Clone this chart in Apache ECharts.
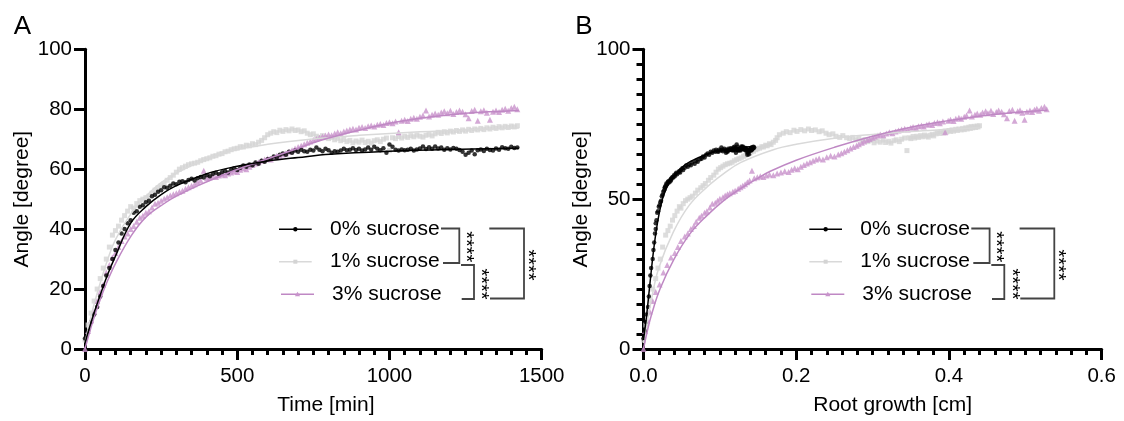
<!DOCTYPE html>
<html>
<head>
<meta charset="utf-8">
<script src="https://cdn.jsdelivr.net/npm/echarts@6/dist/echarts.min.js"></script>
<style>
html,body{margin:0;padding:0;background:#fff;}
#chart{width:1124px;height:421px;}
</style>
</head>
<body>
<div id="chart"></div>
<script>
// ---------------- DATA ----------------
const seriesNames = ['0% sucrose', '1% sucrose', '3% sucrose'];

// sampling times [min]
const times = [0,10,20,30,40,50,60,70,80,90,100,110,120,130,140,150,160,170,180,190,200,210,220,230,240,250,260,270,280,290,300,310,320,330,340,350,360,370,380,390,400,410,420,430,440,450,460,470,480,490,500,510,520,530,540,550,560,570,580,590,600,610,620,630,640,650,660,670,680,690,700,710,720,730,740,750,760,770,780,790,800,810,820,830,840,850,860,870,880,890,900,910,920,930,940,950,960,970,980,990,1000,1010,1020,1030,1040,1050,1060,1070,1080,1090,1100,1110,1120,1130,1140,1150,1160,1170,1180,1190,1200,1210,1220,1230,1240,1250,1260,1270,1280,1290,1300,1310,1320,1330,1340,1350,1360,1370,1380,1390,1400,1410,1420];

// angle [degree] per time point
const angle0 = [3.5,6,9,11.5,14,17.5,21,24.5,27,30,33,35.5,38.5,40,42,43,45.5,46,47.5,48,49,49.5,51,51.5,52.5,53,54,53.8,54.5,55.2,55,55.8,56,55.6,56.4,56.8,56.2,57,57.4,57.2,58,57.6,58.4,58.8,58.3,59,59.4,58.9,59.8,60.3,59.7,60.5,61.2,60.8,61.6,61.3,62.2,61.8,62.8,62.5,63.3,63.5,64.2,63.9,64.8,65.2,64.8,65.8,65.5,66.2,65.8,66.5,66,65.8,66.5,66.2,67.2,66.5,66,66.8,66.3,65.5,66,65.8,66.2,66.8,66.3,66.5,67,66.4,66.8,66.2,66.6,67.2,66.5,67.5,66.8,66.3,67,65.5,68.2,67.5,66.5,66.2,66.6,66.3,66.5,66.8,66.2,66.6,66.9,67.6,66.7,67.3,66.8,67.6,66.9,67.2,66.5,67,66.6,67.1,66.8,66.4,65.8,64.8,65.5,66.2,65,66.3,66.6,66.1,66.8,66.4,66.2,66.9,66.5,67.3,67,66.8,67.5,67.1,67.2];
const angle1 = [3,8,12,16,20,23.5,27,30,34,38,39.5,41,43,44.5,46,47.5,47,48.5,49.5,50,50.5,51,52,53,53.8,54.5,55.2,56.3,57.2,58,59,60,60.5,61,61.5,61.8,62,62.3,62.8,63.2,63.5,63.8,64.3,64.5,65,65.2,65.8,66,66.5,66.8,67,67.5,67.4,68,67.8,68.5,68.2,69,69.6,70.5,71.5,72,72.5,72.2,73,72.6,73.2,72.8,73.4,72.9,73.1,72.5,72.8,72,71.5,71.8,71,70.6,71.2,70.5,70.2,70.6,69.8,70.3,69.5,69.9,69.2,69.6,68.8,69.4,69,69.7,68.9,69.3,68.7,69.5,69.8,69.2,70,70.4,66.2,70.5,70.2,70.9,70.4,71,70.6,71.2,70.8,71.4,71,70.7,71.3,71.6,71.1,71.8,72.3,71.9,72.5,72.1,72.7,72.4,72.9,72.6,73.1,72.7,73.3,72.9,73.4,73.1,73.6,73.2,73.8,73.4,74,73.6,74.2,73.8,74.3,73.9,74.4,74.1,74.5];
const angle3 = [0,6,9.5,12.5,16,19,21.5,25.5,28,30.5,32,34,36,37.5,38.5,40,41,42.5,43.8,44.5,45.5,46,47.2,48.5,48.8,49.5,50.1,50.6,51.2,51.6,52,52.5,52.8,53.5,54,54.5,55,55.6,56.2,59.5,57,57.3,57.6,57.4,57.9,58.2,58,58.6,58.9,59.3,59.1,59.8,60.3,60,60.8,61.4,61.9,62.3,62.8,63.2,63.6,63.2,64,64.5,64.2,64.9,65.3,65.8,66.3,66.9,67.4,67.8,68.3,68.8,69.2,69.7,70.1,70.5,70.9,71.2,71.6,71.3,71.9,72.3,72,72.6,72.9,73.2,73.5,73.2,73.8,74.1,73.7,74.3,74.6,74.2,74.8,75.1,74.7,75.4,75.7,75.3,75.9,72.3,76.2,76.5,76.1,76.8,77.2,76.8,77.5,77.9,79.6,77.6,78.2,78.6,78.2,78.9,79.3,78.7,79.5,78.4,79.1,79.6,79.2,78.3,77,79.4,79.8,76.2,79.3,79.7,78.8,76.5,79.2,79.6,79.1,79.8,80.2,79.5,80.4,80.8,80];

// root growth [cm] per time point
const growth0 = [0,0.002,0.003,0.004,0.006,0.007,0.008,0.009,0.010,0.012,0.013,0.014,0.015,0.016,0.016,0.017,0.018,0.019,0.020,0.021,0.022,0.023,0.024,0.025,0.026,0.027,0.028,0.028,0.029,0.030,0.031,0.032,0.033,0.034,0.035,0.036,0.036,0.037,0.038,0.039,0.040,0.041,0.042,0.043,0.044,0.046,0.047,0.048,0.049,0.051,0.052,0.054,0.056,0.058,0.060,0.062,0.064,0.067,0.069,0.071,0.074,0.076,0.078,0.080,0.082,0.084,0.086,0.088,0.090,0.092,0.094,0.095,0.097,0.098,0.099,0.101,0.102,0.103,0.104,0.106,0.107,0.108,0.109,0.110,0.110,0.111,0.112,0.113,0.114,0.115,0.116,0.117,0.117,0.118,0.118,0.119,0.120,0.120,0.121,0.121,0.122,0.123,0.123,0.124,0.124,0.125,0.126,0.126,0.127,0.127,0.128,0.128,0.129,0.129,0.130,0.130,0.131,0.131,0.132,0.132,0.133,0.134,0.134,0.135,0.135,0.136,0.137,0.137,0.138,0.138,0.139,0.139,0.140,0.140,0.141,0.141,0.142,0.142,0.143,0.143,0.144,0.144,0.145];
const growth1 = [0,0.003,0.006,0.009,0.012,0.016,0.019,0.022,0.025,0.029,0.032,0.035,0.038,0.041,0.044,0.047,0.049,0.052,0.055,0.058,0.061,0.064,0.068,0.071,0.075,0.078,0.081,0.085,0.088,0.092,0.095,0.098,0.101,0.104,0.107,0.110,0.113,0.116,0.119,0.122,0.125,0.128,0.131,0.133,0.136,0.139,0.141,0.144,0.147,0.149,0.152,0.155,0.157,0.160,0.162,0.165,0.167,0.170,0.173,0.175,0.178,0.183,0.187,0.192,0.197,0.201,0.206,0.211,0.216,0.220,0.225,0.230,0.234,0.239,0.243,0.248,0.252,0.257,0.261,0.266,0.270,0.274,0.278,0.282,0.286,0.290,0.294,0.298,0.302,0.306,0.310,0.314,0.317,0.321,0.324,0.328,0.331,0.335,0.338,0.342,0.345,0.348,0.350,0.353,0.355,0.358,0.360,0.363,0.365,0.368,0.370,0.373,0.375,0.378,0.380,0.383,0.385,0.388,0.390,0.393,0.395,0.397,0.400,0.402,0.404,0.406,0.409,0.411,0.413,0.416,0.418,0.420,0.422,0.424,0.426,0.428,0.429,0.431,0.433,0.435,0.437,0.438,0.440];
const growth3 = [0,0.002,0.005,0.008,0.012,0.016,0.021,0.026,0.031,0.036,0.041,0.045,0.049,0.054,0.058,0.062,0.066,0.069,0.073,0.076,0.080,0.083,0.087,0.090,0.094,0.097,0.100,0.104,0.107,0.110,0.113,0.117,0.120,0.124,0.127,0.130,0.133,0.136,0.139,0.142,0.145,0.149,0.153,0.157,0.161,0.165,0.170,0.175,0.180,0.185,0.190,0.194,0.198,0.202,0.206,0.210,0.214,0.218,0.222,0.226,0.230,0.235,0.240,0.245,0.250,0.255,0.259,0.263,0.267,0.271,0.275,0.279,0.282,0.286,0.289,0.293,0.296,0.300,0.303,0.307,0.310,0.314,0.318,0.322,0.326,0.330,0.334,0.338,0.342,0.346,0.350,0.353,0.357,0.360,0.364,0.367,0.371,0.374,0.378,0.381,0.385,0.388,0.392,0.395,0.399,0.402,0.406,0.409,0.413,0.416,0.420,0.423,0.427,0.430,0.434,0.437,0.441,0.444,0.448,0.451,0.455,0.458,0.462,0.465,0.469,0.472,0.476,0.479,0.483,0.486,0.490,0.493,0.496,0.499,0.502,0.506,0.509,0.512,0.515,0.518,0.521,0.525,0.528];

// fitted curves: [x, angle]
const fitTime0 = [[0,2],[25,10.5],[50,18],[75,25],[100,31],[150,42],[200,47.5],[250,51.5],[300,54.5],[400,58.5],[500,61],[600,62.7],[700,63.9],[805,65],[1000,66],[1200,66.6],[1425,67]];
const fitTime1 = [[0,2],[25,13],[50,22],[75,30],[100,36.5],[150,45],[200,51],[250,55.5],[300,58.7],[400,63.5],[476,66],[600,68.3],[740,70],[900,71.3],[1100,72.5],[1300,73.3],[1425,73.7]];
const fitTime3 = [[0,0],[25,9],[50,16.5],[75,23],[100,28.5],[150,37.5],[200,44],[264,48.8],[300,51],[373,54.6],[476,59],[600,63.5],[700,67],[750,68.8],[800,70.4],[900,73],[1000,75.3],[1100,77],[1200,78.2],[1300,79],[1425,79.6]];
const fitGrowth0 = [[0,3],[0.004,11],[0.0085,22],[0.013,32.5],[0.017,40],[0.022,47],[0.028,52.5],[0.039,57.5],[0.05,60.5],[0.061,62.5],[0.083,65],[0.105,66.5],[0.125,67.2],[0.145,67.6]];
const fitGrowth1 = [[0,2],[0.01,16],[0.02,27],[0.039,39],[0.06,48],[0.083,54],[0.105,58.5],[0.127,62.2],[0.17,66.5],[0.2,68.3],[0.25,70.3],[0.3,71.6],[0.35,72.6],[0.4,73.3],[0.44,73.8]];
const fitGrowth3 = [[0,0],[0.005,6],[0.01,11],[0.0216,20],[0.04,30],[0.061,38.5],[0.083,44.5],[0.105,49.5],[0.127,53.5],[0.15,57],[0.166,59.3],[0.2,63],[0.25,67.3],[0.3,71],[0.35,74],[0.4,76.2],[0.45,78],[0.5,79.2],[0.529,79.7]];

// axis ticks
const timeTicks = {min: 0, max: 1500, interval: 500};
const growthTicks = {min: 0, max: 0.6, interval: 0.2};
const angleTicksA = {min: 0, max: 100, interval: 20};
const angleTicksB = {min: 0, max: 100, interval: 50};

// ---------------- STYLE ----------------
const FONT = "'Liberation Sans', Arial, sans-serif";
const TICKFS = 20.5;
const TXTFS = 21;
const COL = ['#000000', '#d4d4d4', '#c994cc'];
const LINECOL = ['#000000', '#d9d9d9', '#bf88c4'];
const SYM = ['circle', 'rect', 'triangle'];
const SYMSIZE = [4.5, 5, 6];

function axisStyle(extra) {
  return Object.assign({
    axisLine: {show: true, onZero: false, lineStyle: {color: '#000', width: 3}},
    axisTick: {show: true, length: 11, lineStyle: {color: '#000', width: 3}},
    splitLine: {show: false},
    nameTextStyle: {color: '#000', fontSize: TXTFS, fontFamily: FONT}
  }, extra);
}

const xAxes = [
  axisStyle({gridIndex: 0, type: 'value', min: timeTicks.min, max: timeTicks.max, interval: timeTicks.interval,
    minorTick: {show: true, splitNumber: 10, length: 6, lineStyle: {color: '#000', width: 3}},
    axisLabel: {color: '#000', fontSize: TICKFS, fontFamily: FONT, margin: 17, formatter: v => String(v)},
    name: 'Time [min]', nameLocation: 'middle', nameGap: 46,
    nameTextStyle: {color: '#000', fontSize: TXTFS, fontFamily: FONT, padding: [0, 0, 0, 25]}}),
  axisStyle({gridIndex: 1, type: 'value', min: growthTicks.min, max: growthTicks.max, interval: growthTicks.interval,
    minorTick: {show: true, splitNumber: 10, length: 6, lineStyle: {color: '#000', width: 3}},
    axisLabel: {color: '#000', fontSize: TICKFS, fontFamily: FONT, margin: 17, formatter: v => v.toFixed(1)},
    name: 'Root growth [cm]', nameLocation: 'middle', nameGap: 46,
    nameTextStyle: {color: '#000', fontSize: TXTFS, fontFamily: FONT, padding: [0, 0, 0, 40]}})
];
const yAxes = [
  axisStyle({gridIndex: 0, type: 'value', min: angleTicksA.min, max: angleTicksA.max, interval: angleTicksA.interval,
    axisLabel: {color: '#000', fontSize: TICKFS, fontFamily: FONT, margin: 13},
    name: 'Angle [degree]', nameLocation: 'middle', nameGap: 52, nameRotate: 90}),
  axisStyle({gridIndex: 1, type: 'value', min: angleTicksB.min, max: angleTicksB.max, interval: angleTicksB.interval,
    minorTick: {show: true, splitNumber: 10, length: 7, lineStyle: {color: '#000', width: 3}},
    axisLabel: {color: '#000', fontSize: TICKFS, fontFamily: FONT, margin: 13},
    name: 'Angle [degree]', nameLocation: 'middle', nameGap: 52, nameRotate: 90})
];

const angles = [angle0, angle1, angle3];
const growths = [growth0, growth1, growth3];
const fitsTime = [fitTime0, fitTime1, fitTime3];
const fitsGrowth = [fitGrowth0, fitGrowth1, fitGrowth3];

const series = [];
const order = [1, 2, 0];
order.forEach(k => {
  series.push({
    name: seriesNames[k], type: 'scatter', xAxisIndex: 0, yAxisIndex: 0,
    data: times.map((t, i) => [t, angles[k][i]]),
    symbol: SYM[k], symbolSize: SYMSIZE[k], itemStyle: {color: COL[k]}, z: 2
  });
  series.push({
    name: seriesNames[k] + ' fit', type: 'line', xAxisIndex: 0, yAxisIndex: 0,
    data: fitsTime[k], smooth: 0.4, showSymbol: false, symbol: 'none',
    lineStyle: {color: LINECOL[k], width: 1.5}, z: 3
  });
});
order.forEach(k => {
  series.push({
    name: seriesNames[k], type: 'scatter', xAxisIndex: 1, yAxisIndex: 1,
    data: growths[k].map((g, i) => [g, angles[k][i]]),
    symbol: SYM[k], symbolSize: SYMSIZE[k], itemStyle: {color: COL[k]}, z: 2
  });
  series.push({
    name: seriesNames[k] + ' fit', type: 'line', xAxisIndex: 1, yAxisIndex: 1,
    data: fitsGrowth[k], smooth: 0.4, showSymbol: false, symbol: 'none',
    lineStyle: {color: LINECOL[k], width: 1.5}, z: 3
  });
});

// ---------------- LEGEND + BRACKETS (graphic) ----------------
function legendBlock(dx) {
  const g = [];
  const rows = [229.3, 261.7, 294.3];
  const lx = [[279, 311.7], [279, 311.7], [281, 314]];
  const tx = [330, 330, 332];
  for (let k = 0; k < 3; k++) {
    const y = rows[k];
    g.push({type: 'line', shape: {x1: lx[k][0] + dx, y1: y, x2: lx[k][1] + dx, y2: y},
      style: {stroke: LINECOL[k], lineWidth: 1.5}});
    const cx = (lx[k][0] + lx[k][1]) / 2 + dx;
    if (k === 0) g.push({type: 'circle', shape: {cx: cx, cy: y, r: 2.2}, style: {fill: COL[0]}});
    if (k === 1) g.push({type: 'rect', shape: {x: cx - 2, y: y - 2, width: 4, height: 4}, style: {fill: COL[1]}});
    if (k === 2) g.push({type: 'polygon', shape: {points: [[cx, y - 2.6], [cx - 2.6, y + 2], [cx + 2.6, y + 2]]}, style: {fill: COL[2]}});
    g.push({type: 'text', x: tx[k] + dx, y: y, style: {text: seriesNames[k], fontSize: TXTFS, fontFamily: FONT, fill: '#000', align: 'left', verticalAlign: 'middle'}});
  }
  const bs = {stroke: '#444', lineWidth: 1.8, fill: null};
  g.push({type: 'polyline', shape: {points: [[441 + dx, 228.5], [459.3 + dx, 228.5], [459.3 + dx, 263], [443 + dx, 263]]}, style: bs});
  g.push({type: 'polyline', shape: {points: [[461 + dx, 265], [474 + dx, 265], [474 + dx, 299], [461.7 + dx, 299]]}, style: bs});
  g.push({type: 'polyline', shape: {points: [[489.3 + dx, 228.5], [524 + dx, 228.5], [524 + dx, 298.5], [490 + dx, 298.5]]}, style: bs});
  const stars = [[469.3, 246.7], [485, 284], [531.7, 265]];
  stars.forEach(p => {
    g.push({type: 'text', x: p[0] - 4 + dx, y: p[1], rotation: -Math.PI / 2,
      style: {text: '****', fontSize: 20, fontFamily: FONT, fill: '#000', align: 'center', verticalAlign: 'middle'}});
  });
  return g;
}

const graphics = [
  {type: 'text', x: 22.5, y: 27, style: {text: 'A', fontSize: 26, fontFamily: FONT, fill: '#000', align: 'center', verticalAlign: 'middle'}},
  {type: 'text', x: 584, y: 27, style: {text: 'B', fontSize: 26, fontFamily: FONT, fill: '#000', align: 'center', verticalAlign: 'middle'}}
].concat(legendBlock(0), legendBlock(530.3));

const chart = echarts.init(document.getElementById('chart'), null, {renderer: 'canvas'});
chart.setOption({
  animation: false,
  backgroundColor: '#fff',
  grid: [
    {left: 85, right: 582.3, top: 49.3, bottom: 65.7},
    {left: 643.5, right: 22.3, top: 49.3, bottom: 65.7}
  ],
  xAxis: xAxes,
  yAxis: yAxes,
  series: series,
  graphic: graphics
});
</script>
</body>
</html>
